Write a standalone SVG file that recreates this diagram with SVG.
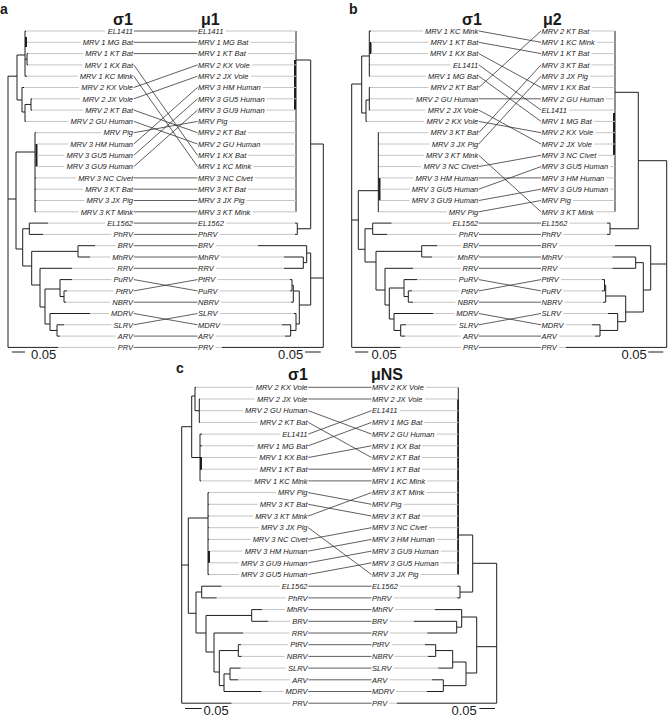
<svg xmlns="http://www.w3.org/2000/svg" width="669" height="716" viewBox="0 0 669 716">
<style>
.br{fill:none;stroke:#1e1e1e;stroke-width:1}
.tk{fill:none;stroke:#1e1e1e;stroke-width:2}
.gl{fill:none;stroke:#c4c4c4;stroke-width:1}
.cn{fill:none;stroke:#2a2a2a;stroke-width:0.75}
text{font-family:"Liberation Sans",Arial,sans-serif;fill:#1a1a1a}
.lb{font-size:7.5px;font-style:italic}
.le{text-anchor:end}
.tt{font-size:16px;font-weight:bold}
.pl{font-size:14px;font-weight:bold}
.sc{font-size:13px}
</style>
<rect width="669" height="716" fill="#fff"/>

<g id="panel-letters">
<text class="pl" x="0" y="13.5">a</text>
<text class="pl" x="349" y="13.5">b</text>
<text class="pl" x="176" y="373">c</text>
</g>
<g id="titles">
<text class="tt" x="113" y="25">σ1</text>
<text class="tt" x="201" y="25">μ1</text>
<text class="tt" x="462" y="25">σ1</text>
<text class="tt" x="543" y="25">μ2</text>
<text class="tt" x="288" y="380">σ1</text>
<text class="tt" x="371" y="380">μNS</text>
</g>

<g id="trees">
<!-- panel a left -->
<path class="br" d="M8 76.2V347.4M8 76.2H17M17 55V100M17 55H25M17 100H22M25 31V76.2M25 31H26M25 42.3H27M25 59.25H27M27 53.6V64.9M27 53.6H28M27 64.9H28M25 76.2H27M22 87.5V112M22 87.5H24M22 112H25M25 104.45V121.4M25 104.45H31M31 98.8V110.1M31 98.8H32M31 110.1H32M25 121.4H26M8 199H16M16 152V249M16 152H35M35 132.7V211.8M35 155H36.5M35 132.7H36M35 177.9H36M35 189.2H36M35 200.5H36M35 211.8H36M16 249H22.7M22.7 228.75V266M22.7 228.75H29.3M29.3 223.1V234.4M29.3 223.1H48M29.3 234.4H43M22.7 266H31.7M31.7 251.35V285M31.7 251.35H78M78 245.7V257M78 245.7H95M78 257H90M31.7 285H40M40 268.3V307M40 268.3H72M40 307H45M45 289V324M45 289H60M60 279.6V296.55M60 279.6H72M60 296.55H64M64 290.9V302.2M64 290.9H67M64 302.2H66M45 324H50M50 313.5V330.45M50 313.5H90M50 330.45H57M57 324.8V336.1M57 324.8H64M57 336.1H60M8 347.4H58"/>
<path class="tk" d="M26 37V47M36.5 144V166.6"/>
<!-- panel a right -->
<path class="br" d="M296 31V211.8M296 60H310.7M310.7 60V228.75M297.3 228.75H310.7M297.3 223.1V234.4M295 223.1H297.3M295 234.4H297.3M310.7 144H323.3M323.3 144V347.4M222 347.4H323.3M310.7 278H323.3M310.7 253V305M306.7 253H310.7M306.7 245.7V262.65M258 245.7H306.7M303.3 262.65H306.7M303.3 257V268.3M284 257H303.3M284 268.3H303.3M299.3 305H310.7M299.3 291V324M293.3 291H299.3M293.3 285.25V302.2M292 285.25H293.3M292 279.6V290.9M290 279.6H292M290 290.9H292M291 302.2H293.3M296 324H299.3M296 313.5V330.45M294 313.5H296M290.7 330.45H296M290.7 324.8V336.1M281.7 324.8H290.7M285 336.1H290.7"/>
<path class="tk" d="M295 60V110"/>
<!-- panel b left -->
<path class="br" d="M351.7 84V347.4M351.7 84H361.7M361.7 56V113M361.7 56H369.3M369.3 31V76.2M369.3 31H371M369.3 64.9H370M369.3 76.2H370M361.7 113H366M366 100V121.4M366 121.4H367M366 100H369.3M369.3 87.5V110.1M369.3 87.5H370M369.3 98.8H370M369.3 110.1H370M351.7 220H358.3M358.3 190.7V249.3M358.3 190.7H378.3M378.3 132.7V211.8M378.3 132.7H379M378.3 144H379M378.3 155.3H379M378.3 166.6H379M378.3 211.8H379M358.3 249.3H365M365 228.75V262M365 228.75H372.7M372.7 223.1V234.4M372.7 223.1H391.7M372.7 234.4H387.3M365 262H376M376 251.35V290M376 251.35H421.7M421.7 245.7V257M421.7 245.7H437.3M421.7 257H432M376 290H385M385 268.3V305M385 268.3H413.3M385 305H389.3M389.3 288V319M389.3 288H404M404 279.6V296.55M404 279.6H417.3M404 296.55H408.3M408.3 290.9V302.2M408.3 290.9H412M408.3 302.2H413M389.3 319H394M394 313.5V330.45M394 313.5H433.3M394 330.45H400.7M400.7 324.8V336.1M400.7 324.8H406M400.7 336.1H405M351.7 347.4H400.7"/>
<path class="tk" d="M370.5 42V54M379.5 177.9V200.5"/>
<!-- panel b right -->
<path class="br" d="M615 31V211.8M615 92.3H638.3M638.3 92.3V228.75M610 228.75H638.3M610 223.1V234.4M607 223.1H610M607 234.4H610M638.3 160.7H666.7M666.7 160.7V347.4M566 347.4H666.7M650.7 264H666.7M650.7 245.7V290M615 245.7H650.7M643.3 290H650.7M643.3 262.65V312M635.7 262.65H643.3M635.7 257V268.3M612.3 257H635.7M612.3 268.3H635.7M625.7 312H643.3M625.7 296V321.7M605.7 296H625.7M605.7 285.25V302.2M604.5 285.25H605.7M604.5 279.6V290.9M602 279.6H604.5M602 290.9H604.5M603 302.2H605.7M617.7 321.7H625.7M617.7 313.5V330.45M608 313.5H617.7M600 330.45H617.7M600 324.8V336.1M592 324.8H600M595 336.1H600"/>
<path class="tk" d="M614 113V155"/>
<!-- panel c left -->
<path class="br" d="M181.7 426.7V703.2M181.7 426.7H191.7M191.7 396V457.5M191.7 396H195M195 387.3V410.7M195 387.3H196M195 410.7H199.3M199.3 399V422.4M199.3 399H200M199.3 422.4H200M191.7 457.5H200M200 434.1V480.9M200 434.1H202M200 445.8H202M200 457.5H202M200 469.2H202M200 480.9H201M181.7 565H188.3M188.3 518V613.3M188.3 518H208M208 492.6V574.5M208 492.6H209M208 504.3H209M208 516H209M208 527.7H209M208 539.4H209M208 574.5H209M188.3 613.3H196M196 592V633M196 592H201.7M201.7 586.2V597.9M201.7 586.2H221.7M201.7 597.9H216.7M196 633H206M206 615.45V652M206 615.45H251.7M251.7 609.6V621.3M251.7 609.6H262M251.7 621.3H268.3M206 652H214M214 633V672M214 633H243.3M214 672H219.3M219.3 650.55V685.6M219.3 650.55H238.3M238.3 644.7V656.4M238.3 644.7H241M238.3 656.4H241.7M219.3 685.6H224M224 673.95V691.5M224 673.95H230M230 668.1V679.8M230 668.1H240.7M230 679.8H238M224 691.5H261.7M181.7 703.2H231.7"/>
<path class="tk" d="M201 457.5V469.2M209 551.1V562.8"/>
<!-- panel c right -->
<path class="br" d="M458.3 387.3V574.5M458.3 535H472.7M472.7 535V592.05M460 592.05H472.7M460 586.2V597.9M457 586.2H460M457 597.9H460M472.7 563.3H496.7M496.7 563.3V703.2M396.7 703.2H496.7M476.7 646.7H496.7M476.7 617V673M461.7 617H476.7M461.7 609.6V627.15M435 609.6H461.7M456.7 627.15H461.7M456.7 621.3V633M414 621.3H456.7M427.3 633H456.7M466 673H476.7M466 662V685.65M452.7 662H466M452.7 650.55V668.1M435.7 650.55H452.7M435.7 644.7V656.4M425 644.7H435.7M428 656.4H435.7M438.3 668.1H452.7M443.3 685.65H466M443.3 679.8V691.5M432 679.8H443.3M426.7 691.5H443.3"/>
<path class="tk" d="M458 399V574.5" style="stroke-width:1.6"/>
</g>

<g id="tip-guides">
<path class="gl" d="M26 31H105.1M27 42.3H80.6M28 53.6H83.1M28 64.9H82.6M27 76.2H77.7M24 87.5H78.9M32 98.8H80.1M32 110.1H83.1M26 121.4H68.5M36 132.7H101.4M37 144H68.1M37 155.3H64.3M37 166.6H64.3M36 177.9H76M36 189.2H83.1M36 200.5H84.3M36 211.8H78.5M48 223.1H105.1M43 234.4H111.4M95 245.7H115.6M90 257H110.2M72 268.3H115.2M72 279.6H111.4M67 290.9H113.5M66 302.2H110.2M90 313.5H108.9M64 324.8H111.4M60 336.1H115.6M58 347.4H115.6"/>
<path class="gl" d="M225.9 31H296M250.4 42.3H296M247.9 53.6H296M252.1 64.9H296M250.9 76.2H296M262.9 87.5H296M266.7 98.8H296M266.7 110.1H296M229.6 121.4H296M247.9 132.7H296M262.5 144H296M248.4 155.3H296M253.3 166.6H296M255 177.9H296M247.9 189.2H296M246.7 200.5H296M252.5 211.8H296M225.9 223.1H295M219.6 234.4H295M215.4 245.7H258M220.8 257H284M215.8 268.3H284M217.5 279.6H290M219.6 290.9H290M220.8 302.2H291M219.6 313.5H294M222.1 324.8H281.7M215.4 336.1H285M215.4 347.4H222"/>
<path class="gl" d="M371 31H423M371 42.3H428.4M371 53.6H427.9M370 64.9H450.4M370 76.2H425.9M370 87.5H428.4M370 98.8H413.8M370 110.1H425.4M367 121.4H424.2M379 132.7H428.4M379 144H429.6M379 155.3H423.8M379 166.6H421.3M380 177.9H413.4M380 189.2H409.6M380 200.5H409.6M379 211.8H446.7M391.7 223.1H450.4M387.3 234.4H456.7M437.3 245.7H460.9M432 257H455.5M413.3 268.3H460.5M417.3 279.6H456.7M412 290.9H458.8M413 302.2H455.5M433.3 313.5H454.2M406 324.8H456.7M405 336.1H460.9M400.7 347.4H460.9"/>
<path class="gl" d="M591.4 31H615M596.8 42.3H615M591.4 53.6H615M591.4 64.9H615M590.2 76.2H615M591.9 87.5H615M606 98.8H615M569.4 110.1H615M593.9 121.4H615M595.6 132.7H615M594.4 144H615M598.5 155.3H615M610.2 166.6H615M606.4 177.9H615M610.2 189.2H615M573.1 200.5H615M596 211.8H615M569.4 223.1H607M563.1 234.4H607M558.9 245.7H615M564.3 257H612.3M559.3 268.3H612.3M561 279.6H602M563.1 290.9H602M564.3 302.2H603M563.1 313.5H608M565.6 324.8H592M558.9 336.1H595M558.9 347.4H566"/>
<path class="gl" d="M196 387.3H253.4M200 399H254.6M200 410.7H243M200 422.4H257.6M202 434.1H279.6M202 445.8H255.1M202 457.5H257.1M202 469.2H257.6M201 480.9H252.2M209 492.6H275.9M209 504.3H257.6M209 516H253M209 527.7H258.8M209 539.4H250.5M210 551.1H242.6M210 562.8H238.8M209 574.5H238.8M221.7 586.2H279.6M216.7 597.9H285.9M262 609.6H284.7M268.3 621.3H290.1M243.3 633H289.7M241 644.7H288M241.7 656.4H284.7M240.7 668.1H285.9M238 679.8H290.1M261.7 691.5H283.4M231.7 703.2H290.1"/>
<path class="gl" d="M426.1 387.3H458.3M424.9 399H458.3M399.9 410.7H458.3M424.4 422.4H458.3M436.5 434.1H458.3M422.4 445.8H458.3M421.9 457.5H458.3M421.9 469.2H458.3M427.3 480.9H458.3M426.5 492.6H458.3M403.6 504.3H458.3M421.9 516H458.3M429 527.7H458.3M436.9 539.4H458.3M440.7 551.1H458.3M440.7 562.8H458.3M420.7 574.5H458.3M399.9 586.2H457M393.6 597.9H457M394.8 609.6H435M389.4 621.3H414M389.8 633H427.3M391.5 644.7H425M394.8 656.4H428M393.6 668.1H438.3M389.4 679.8H432M396.1 691.5H426.7M389.4 703.2H396.7"/>
</g>

<g id="connectors">
<path class="cn" d="M133.8 31L197.5 31M133.8 42.3L197.5 42.3M133.8 53.6L197.5 53.6M133.8 64.9L197.5 155.3M133.8 76.2L197.5 166.6M133.8 87.5L197.5 64.9M133.8 98.8L197.5 76.2M133.8 110.1L197.5 132.7M133.8 121.4L197.5 144M133.8 132.7L197.5 121.4M133.8 144L197.5 87.5M133.8 155.3L197.5 98.8M133.8 166.6L197.5 110.1M133.8 177.9L197.5 177.9M133.8 189.2L197.5 189.2M133.8 200.5L197.5 200.5M133.8 211.8L197.5 211.8M133.8 223.1L197.5 223.1M133.8 234.4L197.5 234.4M133.8 245.7L197.5 245.7M133.8 257L197.5 257M133.8 268.3L197.5 268.3M133.8 279.6L197.5 290.9M133.8 290.9L197.5 279.6M133.8 302.2L197.5 302.2M133.8 313.5L197.5 324.8M133.8 324.8L197.5 313.5M133.8 336.1L197.5 336.1M133.8 347.4L197.5 347.4"/>
<path class="cn" d="M478.8 31L541 42.3M478.8 42.3L541 53.6M478.8 53.6L541 87.5M478.8 64.9L541 110.1M478.8 76.2L541 121.4M478.8 87.5L541 31M478.8 98.8L541 98.8M478.8 110.1L541 144M478.8 121.4L541 132.7M478.8 132.7L541 64.9M478.8 144L541 76.2M478.8 155.3L541 211.8M478.8 166.6L541 155.3M478.8 177.9L541 177.9M478.8 189.2L541 166.6M478.8 200.5L541 189.2M478.8 211.8L541 200.5M478.8 223.1L541 223.1M478.8 234.4L541 234.4M478.8 245.7L541 245.7M478.8 257L541 257M478.8 268.3L541 268.3M478.8 279.6L541 290.9M478.8 290.9L541 279.6M478.8 302.2L541 302.2M478.8 313.5L541 324.8M478.8 324.8L541 313.5M478.8 336.1L541 336.1M478.8 347.4L541 347.4"/>
<path class="cn" d="M308.3 387.3L371.5 387.3M308.3 399L371.5 399M308.3 410.7L371.5 434.1M308.3 422.4L371.5 457.5M308.3 434.1L371.5 410.7M308.3 445.8L371.5 422.4M308.3 457.5L371.5 445.8M308.3 469.2L371.5 469.2M308.3 480.9L371.5 480.9M308.3 492.6L371.5 504.3M308.3 504.3L371.5 516M308.3 516L371.5 492.6M308.3 527.7L371.5 574.5M308.3 539.4L371.5 527.7M308.3 551.1L371.5 539.4M308.3 562.8L371.5 551.1M308.3 574.5L371.5 562.8M308.3 586.2L371.5 586.2M308.3 597.9L371.5 597.9M308.3 609.6L371.5 609.6M308.3 621.3L371.5 621.3M308.3 633L371.5 633M308.3 644.7L371.5 644.7M308.3 656.4L371.5 656.4M308.3 668.1L371.5 668.1M308.3 679.8L371.5 679.8M308.3 691.5L371.5 691.5M308.3 703.2L371.5 703.2"/>
</g>

<g id="a-left" class="lb le">
<g id="aL0"><text x="133" y="33.7">EL1411</text></g>
<g id="aL1"><text x="133" y="45">MRV 1 MG Bat</text></g>
<g id="aL2"><text x="133" y="56.3">MRV 1 KT Bat</text></g>
<g id="aL3"><text x="133" y="67.6">MRV 1 KX Bat</text></g>
<g id="aL4"><text x="133" y="78.9">MRV 1 KC Mink</text></g>
<g id="aL5"><text x="133" y="90.2">MRV 2 KX Vole</text></g>
<g id="aL6"><text x="133" y="101.5">MRV 2 JX Vole</text></g>
<g id="aL7"><text x="133" y="112.8">MRV 2 KT Bat</text></g>
<g id="aL8"><text x="133" y="124.1">MRV 2 GU Human</text></g>
<g id="aL9"><text x="133" y="135.4">MRV Pig</text></g>
<g id="aL10"><text x="133" y="146.7">MRV 3 HM Human</text></g>
<g id="aL11"><text x="133" y="158">MRV 3 GU5 Human</text></g>
<g id="aL12"><text x="133" y="169.3">MRV 3 GU9 Human</text></g>
<g id="aL13"><text x="133" y="180.6">MRV 3 NC Civet</text></g>
<g id="aL14"><text x="133" y="191.9">MRV 3 KT Bat</text></g>
<g id="aL15"><text x="133" y="203.2">MRV 3 JX Pig</text></g>
<g id="aL16"><text x="133" y="214.5">MRV 3 KT Mink</text></g>
<g id="aL17"><text x="133" y="225.8">EL1562</text></g>
<g id="aL18"><text x="133" y="237.1">PhRV</text></g>
<g id="aL19"><text x="133" y="248.4">BRV</text></g>
<g id="aL20"><text x="133" y="259.7">MhRV</text></g>
<g id="aL21"><text x="133" y="271">RRV</text></g>
<g id="aL22"><text x="133" y="282.3">PuRV</text></g>
<g id="aL23"><text x="133" y="293.6">PtRV</text></g>
<g id="aL24"><text x="133" y="304.9">NBRV</text></g>
<g id="aL25"><text x="133" y="316.2">MDRV</text></g>
<g id="aL26"><text x="133" y="327.5">SLRV</text></g>
<g id="aL27"><text x="133" y="338.8">ARV</text></g>
<g id="aL28"><text x="133" y="350.1">PRV</text></g>
</g>
<g id="a-right" class="lb">
<g id="aR0"><text x="198" y="33.7">EL1411</text></g>
<g id="aR1"><text x="198" y="45">MRV 1 MG Bat</text></g>
<g id="aR2"><text x="198" y="56.3">MRV 1 KT Bat</text></g>
<g id="aR3"><text x="198" y="67.6">MRV 2 KX Vole</text></g>
<g id="aR4"><text x="198" y="78.9">MRV 2 JX Vole</text></g>
<g id="aR5"><text x="198" y="90.2">MRV 3 HM Human</text></g>
<g id="aR6"><text x="198" y="101.5">MRV 3 GU5 Human</text></g>
<g id="aR7"><text x="198" y="112.8">MRV 3 GU9 Human</text></g>
<g id="aR8"><text x="198" y="124.1">MRV Pig</text></g>
<g id="aR9"><text x="198" y="135.4">MRV 2 KT Bat</text></g>
<g id="aR10"><text x="198" y="146.7">MRV 2 GU Human</text></g>
<g id="aR11"><text x="198" y="158">MRV 1 KX Bat</text></g>
<g id="aR12"><text x="198" y="169.3">MRV 1 KC Mink</text></g>
<g id="aR13"><text x="198" y="180.6">MRV 3 NC Civet</text></g>
<g id="aR14"><text x="198" y="191.9">MRV 3 KT Bat</text></g>
<g id="aR15"><text x="198" y="203.2">MRV 3 JX Pig</text></g>
<g id="aR16"><text x="198" y="214.5">MRV 3 KT Mink</text></g>
<g id="aR17"><text x="198" y="225.8">EL1562</text></g>
<g id="aR18"><text x="198" y="237.1">PhRV</text></g>
<g id="aR19"><text x="198" y="248.4">BRV</text></g>
<g id="aR20"><text x="198" y="259.7">MhRV</text></g>
<g id="aR21"><text x="198" y="271">RRV</text></g>
<g id="aR22"><text x="198" y="282.3">PtRV</text></g>
<g id="aR23"><text x="198" y="293.6">PuRV</text></g>
<g id="aR24"><text x="198" y="304.9">NBRV</text></g>
<g id="aR25"><text x="198" y="316.2">SLRV</text></g>
<g id="aR26"><text x="198" y="327.5">MDRV</text></g>
<g id="aR27"><text x="198" y="338.8">ARV</text></g>
<g id="aR28"><text x="198" y="350.1">PRV</text></g>
</g>

<g id="b-left" class="lb le">
<g id="bL0"><text x="478.3" y="33.7">MRV 1 KC Mink</text></g>
<g id="bL1"><text x="478.3" y="45">MRV 1 KT Bat</text></g>
<g id="bL2"><text x="478.3" y="56.3">MRV 1 KX Bat</text></g>
<g id="bL3"><text x="478.3" y="67.6">EL1411</text></g>
<g id="bL4"><text x="478.3" y="78.9">MRV 1 MG Bat</text></g>
<g id="bL5"><text x="478.3" y="90.2">MRV 2 KT Bat</text></g>
<g id="bL6"><text x="478.3" y="101.5">MRV 2 GU Human</text></g>
<g id="bL7"><text x="478.3" y="112.8">MRV 2 JX Vole</text></g>
<g id="bL8"><text x="478.3" y="124.1">MRV 2 KX Vole</text></g>
<g id="bL9"><text x="478.3" y="135.4">MRV 3 KT Bat</text></g>
<g id="bL10"><text x="478.3" y="146.7">MRV 3 JX Pig</text></g>
<g id="bL11"><text x="478.3" y="158">MRV 3 KT Mink</text></g>
<g id="bL12"><text x="478.3" y="169.3">MRV 3 NC Civet</text></g>
<g id="bL13"><text x="478.3" y="180.6">MRV 3 HM Human</text></g>
<g id="bL14"><text x="478.3" y="191.9">MRV 3 GU5 Human</text></g>
<g id="bL15"><text x="478.3" y="203.2">MRV 3 GU9 Human</text></g>
<g id="bL16"><text x="478.3" y="214.5">MRV Pig</text></g>
<g id="bL17"><text x="478.3" y="225.8">EL1562</text></g>
<g id="bL18"><text x="478.3" y="237.1">PhRV</text></g>
<g id="bL19"><text x="478.3" y="248.4">BRV</text></g>
<g id="bL20"><text x="478.3" y="259.7">MhRV</text></g>
<g id="bL21"><text x="478.3" y="271">RRV</text></g>
<g id="bL22"><text x="478.3" y="282.3">PuRV</text></g>
<g id="bL23"><text x="478.3" y="293.6">PtRV</text></g>
<g id="bL24"><text x="478.3" y="304.9">NBRV</text></g>
<g id="bL25"><text x="478.3" y="316.2">MDRV</text></g>
<g id="bL26"><text x="478.3" y="327.5">SLRV</text></g>
<g id="bL27"><text x="478.3" y="338.8">ARV</text></g>
<g id="bL28"><text x="478.3" y="350.1">PRV</text></g>
</g>
<g id="b-right" class="lb">
<g id="bR0"><text x="541.5" y="33.7">MRV 2 KT Bat</text></g>
<g id="bR1"><text x="541.5" y="45">MRV 1 KC Mink</text></g>
<g id="bR2"><text x="541.5" y="56.3">MRV 1 KT Bat</text></g>
<g id="bR3"><text x="541.5" y="67.6">MRV 3 KT Bat</text></g>
<g id="bR4"><text x="541.5" y="78.9">MRV 3 JX Pig</text></g>
<g id="bR5"><text x="541.5" y="90.2">MRV 1 KX Bat</text></g>
<g id="bR6"><text x="541.5" y="101.5">MRV 2 GU Human</text></g>
<g id="bR7"><text x="541.5" y="112.8">EL1411</text></g>
<g id="bR8"><text x="541.5" y="124.1">MRV 1 MG Bat</text></g>
<g id="bR9"><text x="541.5" y="135.4">MRV 2 KX Vole</text></g>
<g id="bR10"><text x="541.5" y="146.7">MRV 2 JX Vole</text></g>
<g id="bR11"><text x="541.5" y="158">MRV 3 NC Civet</text></g>
<g id="bR12"><text x="541.5" y="169.3">MRV 3 GU5 Human</text></g>
<g id="bR13"><text x="541.5" y="180.6">MRV 3 HM Human</text></g>
<g id="bR14"><text x="541.5" y="191.9">MRV 3 GU9 Human</text></g>
<g id="bR15"><text x="541.5" y="203.2">MRV Pig</text></g>
<g id="bR16"><text x="541.5" y="214.5">MRV 3 KT Mink</text></g>
<g id="bR17"><text x="541.5" y="225.8">EL1562</text></g>
<g id="bR18"><text x="541.5" y="237.1">PhRV</text></g>
<g id="bR19"><text x="541.5" y="248.4">BRV</text></g>
<g id="bR20"><text x="541.5" y="259.7">MhRV</text></g>
<g id="bR21"><text x="541.5" y="271">RRV</text></g>
<g id="bR22"><text x="541.5" y="282.3">PtRV</text></g>
<g id="bR23"><text x="541.5" y="293.6">PuRV</text></g>
<g id="bR24"><text x="541.5" y="304.9">NBRV</text></g>
<g id="bR25"><text x="541.5" y="316.2">SLRV</text></g>
<g id="bR26"><text x="541.5" y="327.5">MDRV</text></g>
<g id="bR27"><text x="541.5" y="338.8">ARV</text></g>
<g id="bR28"><text x="541.5" y="350.1">PRV</text></g>
</g>

<g id="c-left" class="lb le">
<g id="cL0"><text x="307.5" y="390">MRV 2 KX Vole</text></g>
<g id="cL1"><text x="307.5" y="401.7">MRV 2 JX Vole</text></g>
<g id="cL2"><text x="307.5" y="413.4">MRV 2 GU Human</text></g>
<g id="cL3"><text x="307.5" y="425.1">MRV 2 KT Bat</text></g>
<g id="cL4"><text x="307.5" y="436.8">EL1411</text></g>
<g id="cL5"><text x="307.5" y="448.5">MRV 1 MG Bat</text></g>
<g id="cL6"><text x="307.5" y="460.2">MRV 1 KX Bat</text></g>
<g id="cL7"><text x="307.5" y="471.9">MRV 1 KT Bat</text></g>
<g id="cL8"><text x="307.5" y="483.6">MRV 1 KC Mink</text></g>
<g id="cL9"><text x="307.5" y="495.3">MRV Pig</text></g>
<g id="cL10"><text x="307.5" y="507">MRV 3 KT Bat</text></g>
<g id="cL11"><text x="307.5" y="518.7">MRV 3 KT Mink</text></g>
<g id="cL12"><text x="307.5" y="530.4">MRV 3 JX Pig</text></g>
<g id="cL13"><text x="307.5" y="542.1">MRV 3 NC Civet</text></g>
<g id="cL14"><text x="307.5" y="553.8">MRV 3 HM Human</text></g>
<g id="cL15"><text x="307.5" y="565.5">MRV 3 GU9 Human</text></g>
<g id="cL16"><text x="307.5" y="577.2">MRV 3 GU5 Human</text></g>
<g id="cL17"><text x="307.5" y="588.9">EL1562</text></g>
<g id="cL18"><text x="307.5" y="600.6">PhRV</text></g>
<g id="cL19"><text x="307.5" y="612.3">MhRV</text></g>
<g id="cL20"><text x="307.5" y="624">BRV</text></g>
<g id="cL21"><text x="307.5" y="635.7">RRV</text></g>
<g id="cL22"><text x="307.5" y="647.4">PtRV</text></g>
<g id="cL23"><text x="307.5" y="659.1">NBRV</text></g>
<g id="cL24"><text x="307.5" y="670.8">SLRV</text></g>
<g id="cL25"><text x="307.5" y="682.5">ARV</text></g>
<g id="cL26"><text x="307.5" y="694.2">MDRV</text></g>
<g id="cL27"><text x="307.5" y="705.9">PRV</text></g>
</g>
<g id="c-right" class="lb">
<g id="cR0"><text x="372" y="390">MRV 2 KX Vole</text></g>
<g id="cR1"><text x="372" y="401.7">MRV 2 JX Vole</text></g>
<g id="cR2"><text x="372" y="413.4">EL1411</text></g>
<g id="cR3"><text x="372" y="425.1">MRV 1 MG Bat</text></g>
<g id="cR4"><text x="372" y="436.8">MRV 2 GU Human</text></g>
<g id="cR5"><text x="372" y="448.5">MRV 1 KX Bat</text></g>
<g id="cR6"><text x="372" y="460.2">MRV 2 KT Bat</text></g>
<g id="cR7"><text x="372" y="471.9">MRV 1 KT Bat</text></g>
<g id="cR8"><text x="372" y="483.6">MRV 1 KC Mink</text></g>
<g id="cR9"><text x="372" y="495.3">MRV 3 KT Mink</text></g>
<g id="cR10"><text x="372" y="507">MRV Pig</text></g>
<g id="cR11"><text x="372" y="518.7">MRV 3 KT Bat</text></g>
<g id="cR12"><text x="372" y="530.4">MRV 3 NC Civet</text></g>
<g id="cR13"><text x="372" y="542.1">MRV 3 HM Human</text></g>
<g id="cR14"><text x="372" y="553.8">MRV 3 GU9 Human</text></g>
<g id="cR15"><text x="372" y="565.5">MRV 3 GU5 Human</text></g>
<g id="cR16"><text x="372" y="577.2">MRV 3 JX Pig</text></g>
<g id="cR17"><text x="372" y="588.9">EL1562</text></g>
<g id="cR18"><text x="372" y="600.6">PhRV</text></g>
<g id="cR19"><text x="372" y="612.3">MhRV</text></g>
<g id="cR20"><text x="372" y="624">BRV</text></g>
<g id="cR21"><text x="372" y="635.7">RRV</text></g>
<g id="cR22"><text x="372" y="647.4">PtRV</text></g>
<g id="cR23"><text x="372" y="659.1">NBRV</text></g>
<g id="cR24"><text x="372" y="670.8">SLRV</text></g>
<g id="cR25"><text x="372" y="682.5">ARV</text></g>
<g id="cR26"><text x="372" y="694.2">MDRV</text></g>
<g id="cR27"><text x="372" y="705.9">PRV</text></g>
</g>

<g id="scale-bars">
<path class="br" d="M12 352H25M305 352H320.7M355 352H368.3M648.3 352H663.3M185 708.5H201.7M479.3 708.5H495"/>
<text class="sc" x="31" y="358.5">0.05</text>
<text class="sc" x="278" y="358.5">0.05</text>
<text class="sc" x="371.5" y="358.5">0.05</text>
<text class="sc" x="621.5" y="358.5">0.05</text>
<text class="sc" x="203.5" y="714.5">0.05</text>
<text class="sc" x="451.5" y="714.5">0.05</text>
</g>
</svg>
